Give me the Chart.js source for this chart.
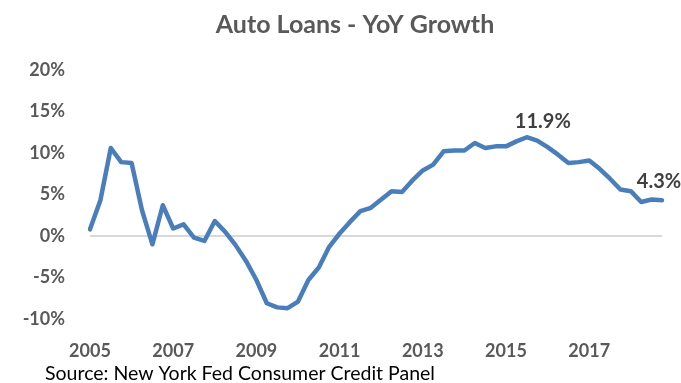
<!DOCTYPE html>
<html>
<head>
<meta charset="utf-8">
<script src="https://cdn.jsdelivr.net/npm/chart.js@4.4.1/dist/chart.umd.min.js"></script>
<style>
  html, body { margin: 0; padding: 0; background: #fff; }
  #wrap { width: 681px; height: 383px; }
</style>
</head>
<body>
<div id="wrap"><canvas id="autoChart" width="681" height="383"></canvas></div>
<script>
// quarterly data, 2005Q1 - 2018Q4
const years = [2005, 2006, 2007, 2008, 2009, 2010, 2011, 2012, 2013, 2014, 2015, 2016, 2017, 2018];
const quarters = years.flatMap(y => ['Q1', 'Q2', 'Q3', 'Q4'].map(q => y + q));
const yoyGrowth = [
    0.8, 4.3, 10.6, 8.9, 8.8, 3.1, -1.0, 3.7,
    0.9, 1.4, -0.2, -0.6, 1.8, 0.5, -1.1, -3.0,
    -5.3, -8.1, -8.6, -8.7, -7.9, -5.3, -3.8, -1.3,
    0.3, 1.7, 3.0, 3.4, 4.4, 5.4, 5.3, 6.7,
    7.9, 8.6, 10.2, 10.3, 10.3, 11.2, 10.6, 10.8,
    10.8, 11.4, 11.9, 11.5, 10.7, 9.8, 8.8, 8.9,
    9.1, 8.1, 6.9, 5.6, 5.4, 4.1, 4.4, 4.3
];
const labelledPoints = [42, 55];
const labelOffsets = [[16, -16], [-3, -19]];

const textColor = '#595959';
const fontFamily = 'Lato, "Liberation Sans", sans-serif';

// title, source note and the two point labels
const extrasPlugin = {
    id: 'extras',
    afterDraw(chart) {
        const c = chart.ctx;
        c.save();
        c.fillStyle = textColor;
        c.font = 'bold 25px ' + fontFamily;
        c.textAlign = 'center';
        c.textBaseline = 'alphabetic';
        c.fillText('Auto Loans - YoY Growth', 355, 33);

        c.fillStyle = '#000';
        c.font = '19.5px ' + fontFamily;
        c.textAlign = 'left';
        c.fillText('Source: New York Fed Consumer Credit Panel', 45, 380);

        const meta = chart.getDatasetMeta(0);
        c.fillStyle = '#404040';
        c.font = 'bold 20px ' + fontFamily;
        c.textAlign = 'center';
        c.textBaseline = 'middle';
        labelledPoints.forEach((idx, i) => {
            const pt = meta.data[idx];
            c.fillText(yoyGrowth[idx].toFixed(1) + '%', pt.x + labelOffsets[i][0], pt.y + labelOffsets[i][1]);
        });
        c.restore();
    }
};

const ctx = document.getElementById('autoChart').getContext('2d');
const autoChart = new Chart(ctx, {
    type: 'line',
    data: {
        labels: quarters,
        datasets: [{
            label: 'YoY Growth',
            data: yoyGrowth,
            borderColor: '#4a7ebb',
            borderWidth: 4.5,
            pointRadius: 0,
            tension: 0,
            borderJoinStyle: 'round',
            borderCapStyle: 'round'
        }]
    },
    options: {
        responsive: false,
        animation: false,
        layout: { padding: { top: 70, right: 19, bottom: 0, left: 0 } },
        plugins: {
            legend: { display: false },
            tooltip: { enabled: false }
        },
        scales: {
            x: {
                offset: false,
                grid: { display: false, drawTicks: false },
                border: { display: false },
                afterFit: (scale) => { scale.height = 64; },
                ticks: {
                    autoSkip: false,
                    maxRotation: 0,
                    padding: 21,
                    color: textColor,
                    font: { family: fontFamily, size: 18, weight: 'bold' },
                    callback: function (value, index) {
                        return index % 8 === 0 ? quarters[index].slice(0, 4) : null;
                    }
                }
            },
            y: {
                min: -10,
                max: 20,
                afterFit: (scale) => { scale.width = 90; },
                grid: {
                    drawTicks: false,
                    lineWidth: 2,
                    color: (c) => (c.tick && c.tick.value === 0 ? '#d9d9d9' : 'rgba(0,0,0,0)')
                },
                border: { display: false },
                ticks: {
                    stepSize: 5,
                    padding: 25,
                    color: textColor,
                    font: { family: fontFamily, size: 18, weight: 'bold' },
                    callback: (v) => v + '%'
                }
            }
        }
    },
    plugins: [extrasPlugin]
});
</script>
</body>
</html>
